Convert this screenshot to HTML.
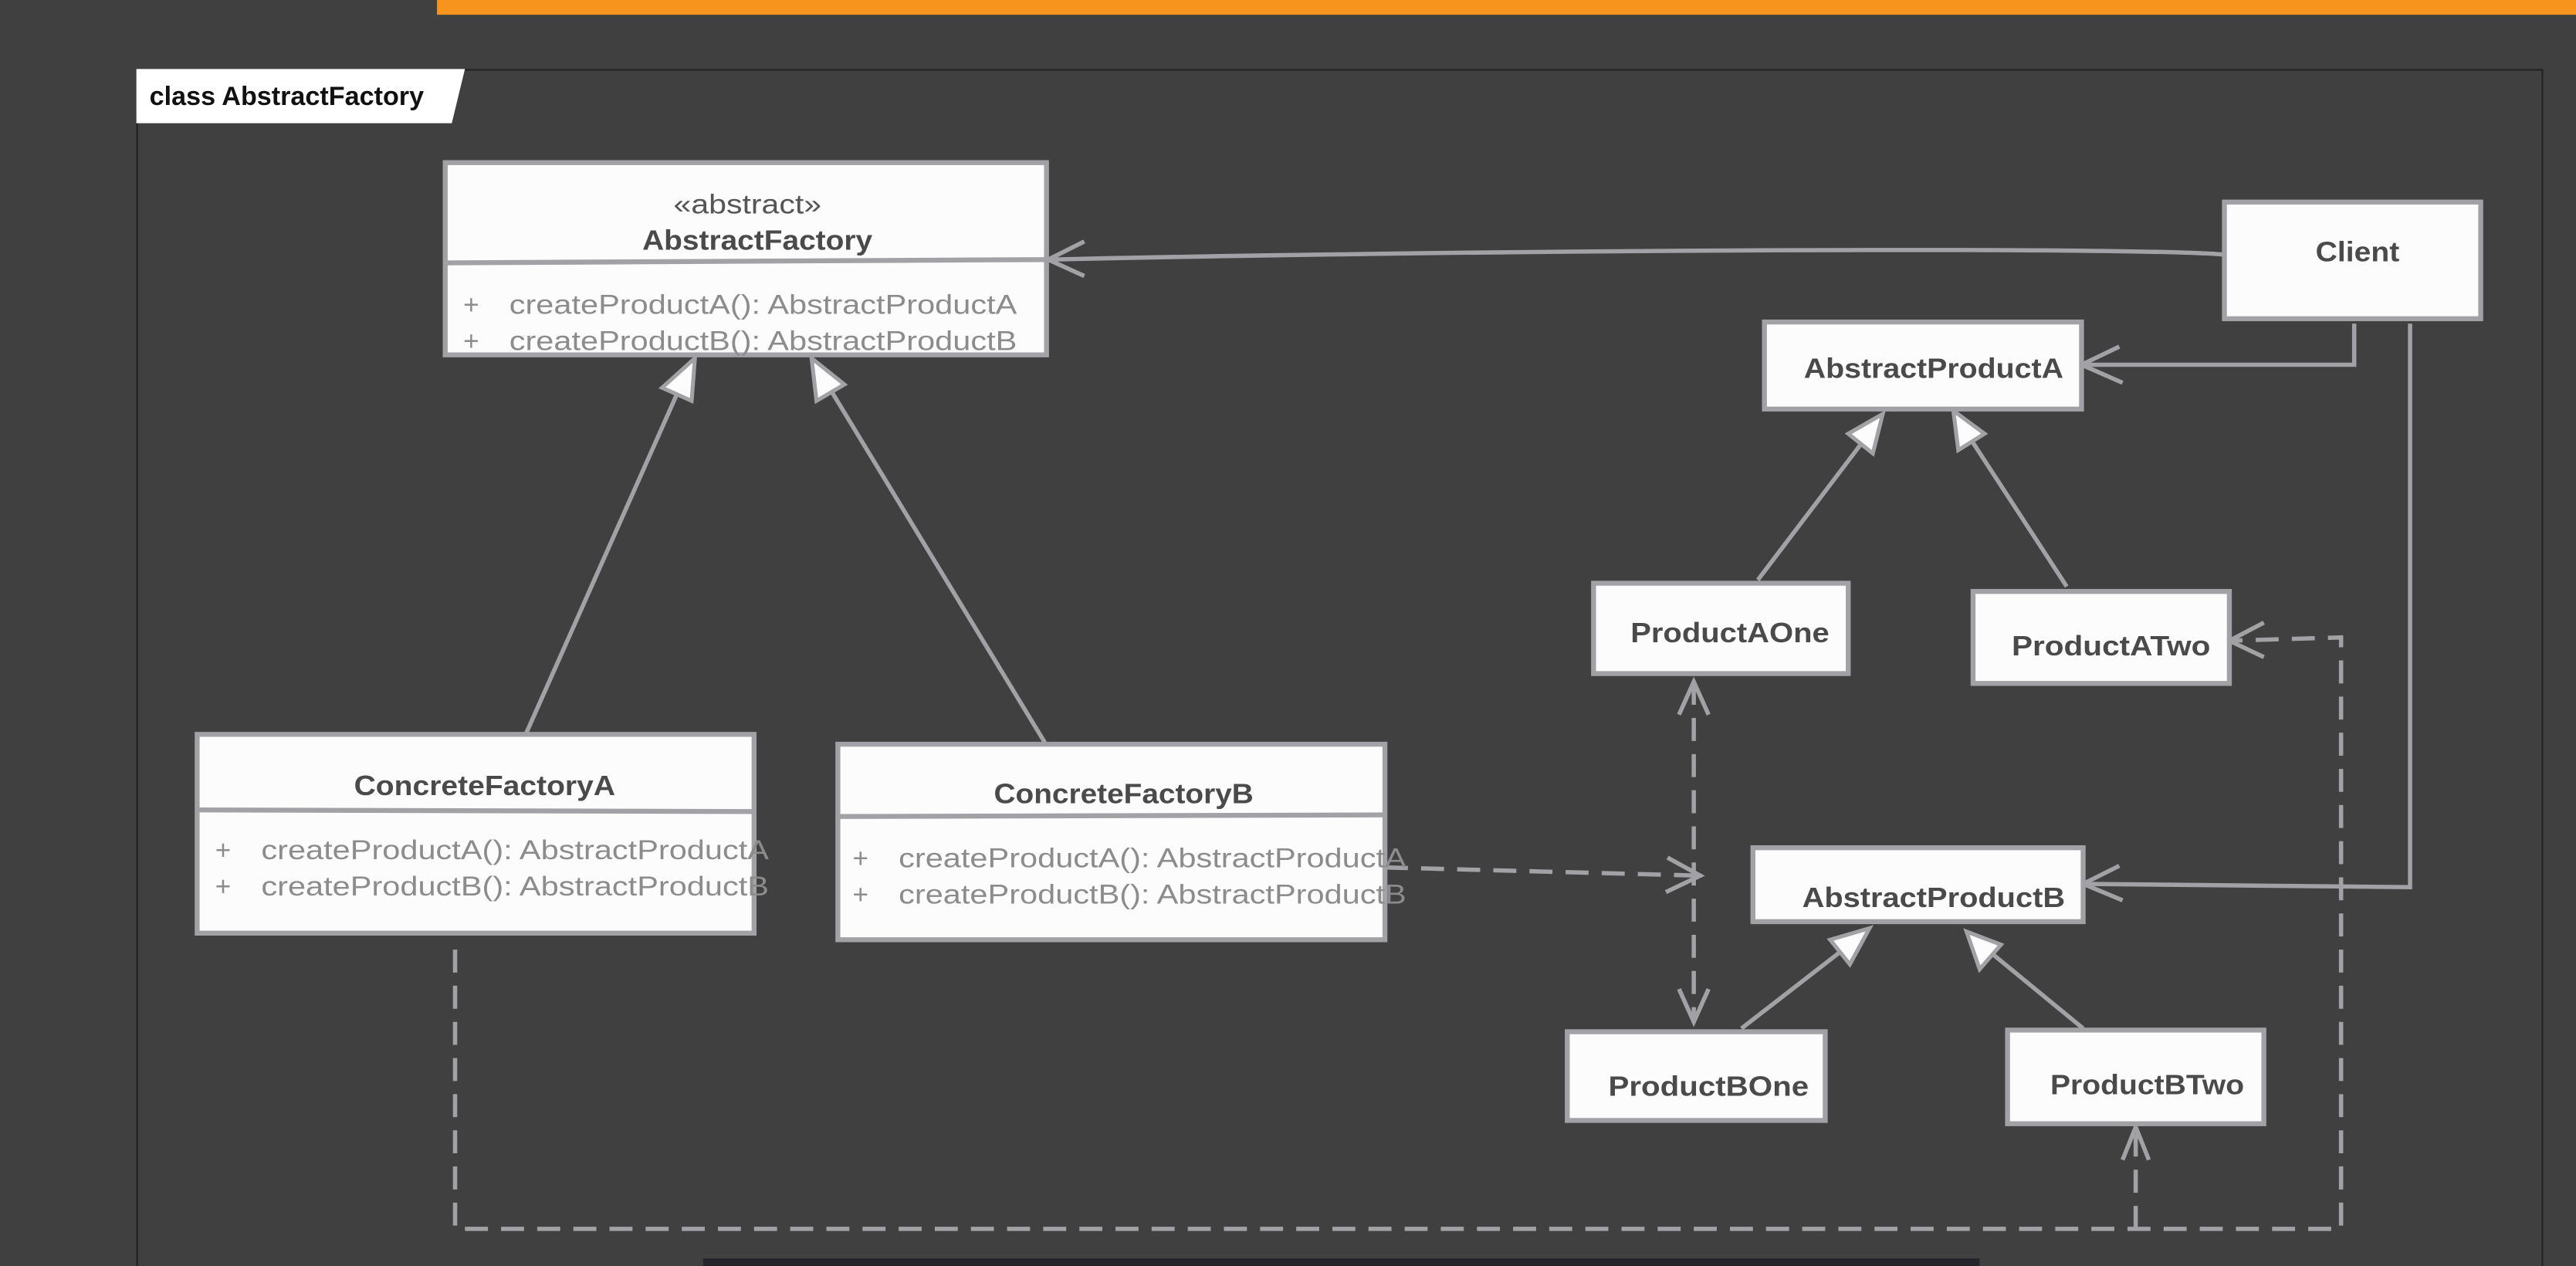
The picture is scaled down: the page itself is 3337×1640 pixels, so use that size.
<!DOCTYPE html>
<html><head><meta charset="utf-8"><style>
html,body{margin:0;padding:0;background:#404040;}
svg{display:block}
text{font-family:"Liberation Sans",sans-serif;}
.b{fill:#fcfcfc;stroke:#a2a2a6;stroke-width:3}
.t{font-weight:bold;font-size:17px;fill:#4a4a4a;text-anchor:middle}
.m{font-size:16.5px;fill:#8c8c8c}
.l{fill:none;stroke:#a2a2a6;stroke-width:2.6}
.d{fill:none;stroke:#a2a2a6;stroke-width:2.6;stroke-dasharray:14 8}
.tri{fill:#fcfcfc;stroke:#a2a2a6;stroke-width:2.4}
</style></head><body>
<svg width="3337" height="1640" viewBox="0 0 1568 770.6" preserveAspectRatio="none" xmlns="http://www.w3.org/2000/svg">
<rect x="0" y="0" width="1568" height="771" fill="#404040"/>
<rect x="266" y="0" width="1302" height="9" fill="#f7941d"/>
<rect x="83.5" y="42.5" width="1464" height="740" fill="none" stroke="#222" stroke-width="1"/>
<polygon points="83,42 283,42 275,75 83,75" fill="#fff"/>
<text x="91" y="64" textLength="167" lengthAdjust="spacingAndGlyphs" style="font-weight:bold;font-size:16px;fill:#111">class AbstractFactory</text>
<rect x="428" y="766" width="777" height="6" fill="#25242a"/>

<!-- edges -->
<path class="l" d="M1354,155 C1300,150 900,152 638,158"/>
<path class="l" d="M660,147 L638,158 L660,168"/>
<path class="l" d="M1433,197 L1433,222 L1267,222"/>
<path class="l" d="M1290,211 L1267,222 L1292,233"/>
<path class="l" d="M1467,197 L1467,540 L1268,538"/>
<path class="l" d="M1290,527 L1268,538 L1292,548"/>

<path class="l" d="M320,447 L412,240"/>
<polygon class="tri" points="423,218 403,236 421,244"/>
<path class="l" d="M636,452 L506,238"/>
<polygon class="tri" points="494,218 497,244 514,234"/>
<path class="l" d="M1070,353 L1133,270"/>
<polygon class="tri" points="1146,252 1125,264 1140,276"/>
<path class="l" d="M1258,357 L1200,268"/>
<polygon class="tri" points="1189,250 1192,274 1208,264"/>
<path class="l" d="M1060,626 L1122,578"/>
<polygon class="tri" points="1138,565 1114,572 1126,587"/>
<path class="l" d="M1268,626 L1212,580"/>
<polygon class="tri" points="1197,567 1205,590 1218,575"/>

<path class="d" d="M843,528 L1035,533"/>
<path class="l" d="M1015,522 L1035,533 L1014,543"/>
<path class="d" d="M1031,415 L1031,622"/>
<path class="l" d="M1022,435 L1031,415 L1040,435"/>
<path class="l" d="M1022,602 L1031,622 L1040,602"/>
<path class="d" d="M277,578 L277,748 L1425,748 L1425,388 L1357,390"/>
<path class="l" d="M1378,379 L1357,390 L1378,400"/>
<path class="d" d="M1300,748 L1300,686"/>
<path class="l" d="M1292,706 L1300,686 L1308,706"/>

<!-- AbstractFactory -->
<rect class="b" x="271" y="99" width="366" height="117"/>
<line x1="271" y1="160" x2="637" y2="158" stroke="#a2a2a6" stroke-width="3"/>
<text x="455" y="130" textLength="90" lengthAdjust="spacingAndGlyphs" style="font-size:16.5px;fill:#555;text-anchor:middle">«abstract»</text>
<text class="t" x="461" y="152" textLength="140" lengthAdjust="spacingAndGlyphs">AbstractFactory</text>
<text class="m" x="282" y="191">+</text><text class="m" x="310" y="191" textLength="309" lengthAdjust="spacingAndGlyphs">createProductA(): AbstractProductA</text>
<text class="m" x="282" y="213">+</text><text class="m" x="310" y="213" textLength="309" lengthAdjust="spacingAndGlyphs">createProductB(): AbstractProductB</text>

<rect class="b" x="1354" y="123" width="156" height="71"/>
<text class="t" x="1435" y="159" textLength="51" lengthAdjust="spacingAndGlyphs">Client</text>
<rect class="b" x="1074" y="196" width="193" height="53"/>
<text class="t" x="1177" y="230" textLength="158" lengthAdjust="spacingAndGlyphs">AbstractProductA</text>
<rect class="b" x="970" y="355" width="155" height="55"/>
<text class="t" x="1053" y="391" textLength="121" lengthAdjust="spacingAndGlyphs">ProductAOne</text>
<rect class="b" x="1201" y="360" width="156" height="56"/>
<text class="t" x="1285" y="399" textLength="121" lengthAdjust="spacingAndGlyphs">ProductATwo</text>

<rect class="b" x="120" y="447" width="339" height="121"/>
<line x1="120" y1="493" x2="459" y2="494" stroke="#a2a2a6" stroke-width="3"/>
<text class="t" x="295" y="484" textLength="159" lengthAdjust="spacingAndGlyphs">ConcreteFactoryA</text>
<text class="m" x="131" y="523">+</text><text class="m" x="159" y="523" textLength="309" lengthAdjust="spacingAndGlyphs">createProductA(): AbstractProductA</text>
<text class="m" x="131" y="545">+</text><text class="m" x="159" y="545" textLength="309" lengthAdjust="spacingAndGlyphs">createProductB(): AbstractProductB</text>

<rect class="b" x="510" y="453" width="333" height="119"/>
<line x1="510" y1="497" x2="843" y2="496" stroke="#a2a2a6" stroke-width="3"/>
<text class="t" x="684" y="489" textLength="158" lengthAdjust="spacingAndGlyphs">ConcreteFactoryB</text>
<text class="m" x="519" y="528">+</text><text class="m" x="547" y="528" textLength="309" lengthAdjust="spacingAndGlyphs">createProductA(): AbstractProductA</text>
<text class="m" x="519" y="550">+</text><text class="m" x="547" y="550" textLength="309" lengthAdjust="spacingAndGlyphs">createProductB(): AbstractProductB</text>

<rect class="b" x="1067" y="516" width="201" height="45"/>
<text class="t" x="1177" y="552" textLength="160" lengthAdjust="spacingAndGlyphs">AbstractProductB</text>
<rect class="b" x="954" y="628" width="157" height="54"/>
<text class="t" x="1040" y="667" textLength="122" lengthAdjust="spacingAndGlyphs">ProductBOne</text>
<rect class="b" x="1222" y="627" width="156" height="57"/>
<text class="t" x="1307" y="666" textLength="118" lengthAdjust="spacingAndGlyphs">ProductBTwo</text>
</svg>
</body></html>
